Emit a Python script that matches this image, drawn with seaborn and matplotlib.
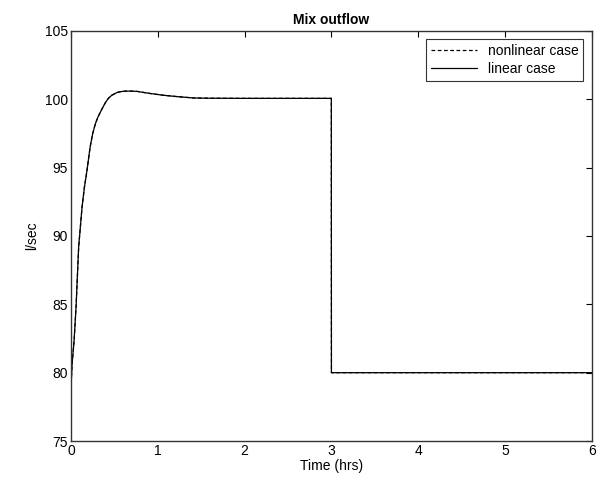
import numpy as np
import pandas as pd
import matplotlib
matplotlib.use("Agg")
import matplotlib.pyplot as plt
import seaborn as sns

# ── data ──────────────────────────────────────────────────────
time_hrs = [0.0, 0.005, 0.012, 0.02, 0.035, 0.058, 0.088, 0.127, 0.155, 0.184, 0.22,
            0.25, 0.28, 0.31, 0.357, 0.4, 0.43, 0.47, 0.53, 0.58, 0.63, 0.7, 0.76,
            0.84, 0.91, 1.06, 1.22, 1.41, 1.6, 2.0, 2.5, 2.999, 3.0, 3.5, 4.0, 5.0, 6.0]
outflow_linear = [78.8, 79.6, 80.6, 81.2, 82.3, 84.8, 89.2, 92.1, 93.6, 94.8, 96.5,
                  97.5, 98.2, 98.7, 99.3, 99.8, 100.07, 100.3, 100.5, 100.57, 100.6, 100.6, 100.58,
                  100.5, 100.43, 100.3, 100.2, 100.1, 100.08, 100.07, 100.07, 100.07,
                  80.0, 80.0, 80.0, 80.0, 80.0]
outflow_nonlinear = list(outflow_linear)

x_ticks = [0, 1, 2, 3, 4, 5, 6]
y_ticks = [75, 80, 85, 90, 95, 100, 105]

df = pd.concat([
    pd.DataFrame({"t": time_hrs, "v": outflow_nonlinear, "case": "nonlinear case"}),
    pd.DataFrame({"t": time_hrs, "v": outflow_linear, "case": "linear case"}),
])

# ── style (MATLAB-ish look) ───────────────────────────────────
sns.set_style("white")
plt.rcParams["font.family"] = ["Liberation Sans", "DejaVu Sans"]
plt.rcParams["font.size"] = 10
plt.rcParams["text.color"] = "black"
plt.rcParams["axes.labelcolor"] = "black"
plt.rcParams["xtick.color"] = "black"
plt.rcParams["ytick.color"] = "black"
plt.rcParams["xtick.direction"] = "in"
plt.rcParams["ytick.direction"] = "in"

fig = plt.figure(figsize=(6.07, 4.88), dpi=100)
ax = fig.add_axes([0.117, 0.0963, 0.858, 0.8402])

sns.lineplot(data=df, x="t", y="v", hue="case", style="case",
             palette={"nonlinear case": "black", "linear case": "black"},
             dashes={"nonlinear case": (3, 2), "linear case": ""},
             sort=False, estimator=None, linewidth=0.9, ax=ax)

ax.set_xlim(0, 6)
ax.set_ylim(75, 105)
ax.set_xticks(x_ticks)
ax.set_yticks(y_ticks)
ax.tick_params(axis="both", which="both", top=True, right=True, length=4,
               width=0.8, color="black", labelcolor="black", labelsize=10, pad=2)
for sp in ax.spines.values():
    sp.set_color("#333333")
    sp.set_linewidth(1.0)

ax.set_xlabel("Time (hrs)", fontsize=10, labelpad=1, color="black")
ax.set_ylabel("l/sec", fontsize=10, labelpad=4, color="black")
ax.set_title("Mix outflow", fontsize=10, fontweight="bold", pad=5, color="black")

leg = ax.legend(loc="upper right", frameon=True, fancybox=False,
                edgecolor="black", fontsize=10, handlelength=3.3,
                borderaxespad=0.6, borderpad=0.35, labelspacing=0.25)
leg.get_frame().set_linewidth(0.8)
for txt in leg.get_texts():
    txt.set_color("black")

plt.savefig("out.png", dpi=100)
